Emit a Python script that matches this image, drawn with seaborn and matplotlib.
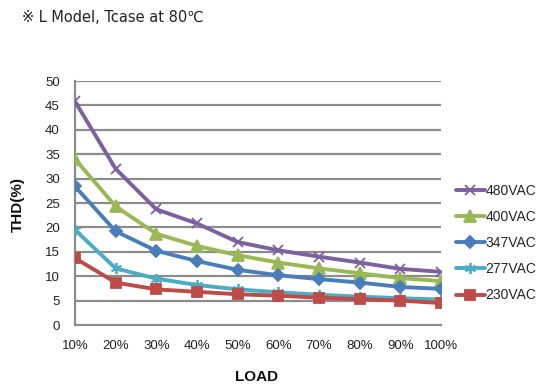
import matplotlib
matplotlib.use("Agg")
import matplotlib.pyplot as plt
import seaborn as sns
import pandas as pd
from matplotlib.lines import Line2D

loads = ["10%", "20%", "30%", "40%", "50%", "60%", "70%", "80%", "90%", "100%"]
v480 = [45.8, 32.0, 23.7, 20.8, 17.0, 15.3, 14.0, 12.8, 11.5, 10.9]
v400 = [34.0, 24.3, 18.7, 16.2, 14.3, 12.8, 11.6, 10.6, 9.6, 9.0]
v347 = [28.4, 19.2, 15.2, 13.1, 11.3, 10.2, 9.4, 8.7, 7.8, 7.4]
v277 = [19.5, 11.6, 9.5, 8.2, 7.3, 6.7, 6.2, 5.8, 5.5, 5.2]
v230 = [13.7, 8.7, 7.3, 6.8, 6.3, 6.0, 5.6, 5.3, 5.0, 4.5]
series = ["480VAC", "400VAC", "347VAC", "277VAC", "230VAC"]
values = [v480, v400, v347, v277, v230]
colors = ["#7D60A0", "#98B954", "#4A7EBB", "#4BACC6", "#BE4B48"]
markers = ["x", "^", "D", (6, 2, 0), "s"]
msizes = [7, 8, 6, 8, 7]

sns.set_theme(style="white")
plt.rcParams["font.family"] = ["Liberation Sans", "DejaVu Sans"]

rows = []
for s, vals in zip(series, values):
    for i, (l, v) in enumerate(zip(loads, vals)):
        rows.append({"pos": i, "load": l, "series": s, "thd": v})
df = pd.DataFrame(rows)

fig = plt.figure(figsize=(5.38, 3.90), dpi=100)
ax = fig.add_axes([75/538, 1-325/390, (441-75)/538, (325-81)/390])

handles = []
for s, c, m, ms in zip(series, colors, markers, msizes):
    d = df[df["series"] == s]
    sns.lineplot(data=d, x="pos", y="thd", ax=ax, color=c, lw=2.8,
                 marker=m, markersize=ms, markeredgecolor=c,
                 markeredgewidth=1.3, legend=False, zorder=3)
    handles.append(Line2D([0], [0], color=c, lw=2.8, marker=m, markersize=ms,
                          markeredgecolor=c, markeredgewidth=1.3))

ax.set_xlim(0, len(loads) - 1)
ax.set_ylim(0, 50)
ax.set_yticks(range(0, 51, 5))
ax.set_xticks(range(len(loads)))
ax.set_xticklabels(loads)
for y in range(5, 51, 5):
    ax.axhline(y, color="#8c8c8c", lw=1.6, zorder=1)
for sp in ["top", "right"]:
    ax.spines[sp].set_visible(False)
for sp in ["left", "bottom"]:
    ax.spines[sp].set_color("#8c8c8c")
    ax.spines[sp].set_linewidth(1.6)
ax.tick_params(axis="both", width=1.4, color="#8c8c8c",
               labelsize=9.5, labelcolor="#222222")
ax.tick_params(axis="y", direction="out", length=3, pad=8)
ax.tick_params(axis="x", direction="out", length=4, pad=7)
ax.set_xlabel("")
ax.set_ylabel("")

fig.text(18/538, 1-205/390, "THD(%)", rotation=90, fontsize=11, fontweight="bold",
         ha="center", va="center", color="#111111")
fig.text(257/538, 1-377/390, "LOAD", fontsize=11, fontweight="bold",
         ha="center", va="center", color="#111111")
fig.text(22/538, 1-18/390, "※ L Model, Tcase at 80℃", fontsize=10.5,
         ha="left", va="center", color="#222222",
         family=["DejaVu Sans", "Noto Sans CJK SC"])

leg = fig.legend(handles, series, loc="upper left",
                 bbox_to_anchor=(450/538, 1-178/390), frameon=False,
                 fontsize=10, handlelength=2.1, handletextpad=0.05,
                 labelspacing=0.88, borderaxespad=0)

fig.savefig("out.png", dpi=100, facecolor="white")
